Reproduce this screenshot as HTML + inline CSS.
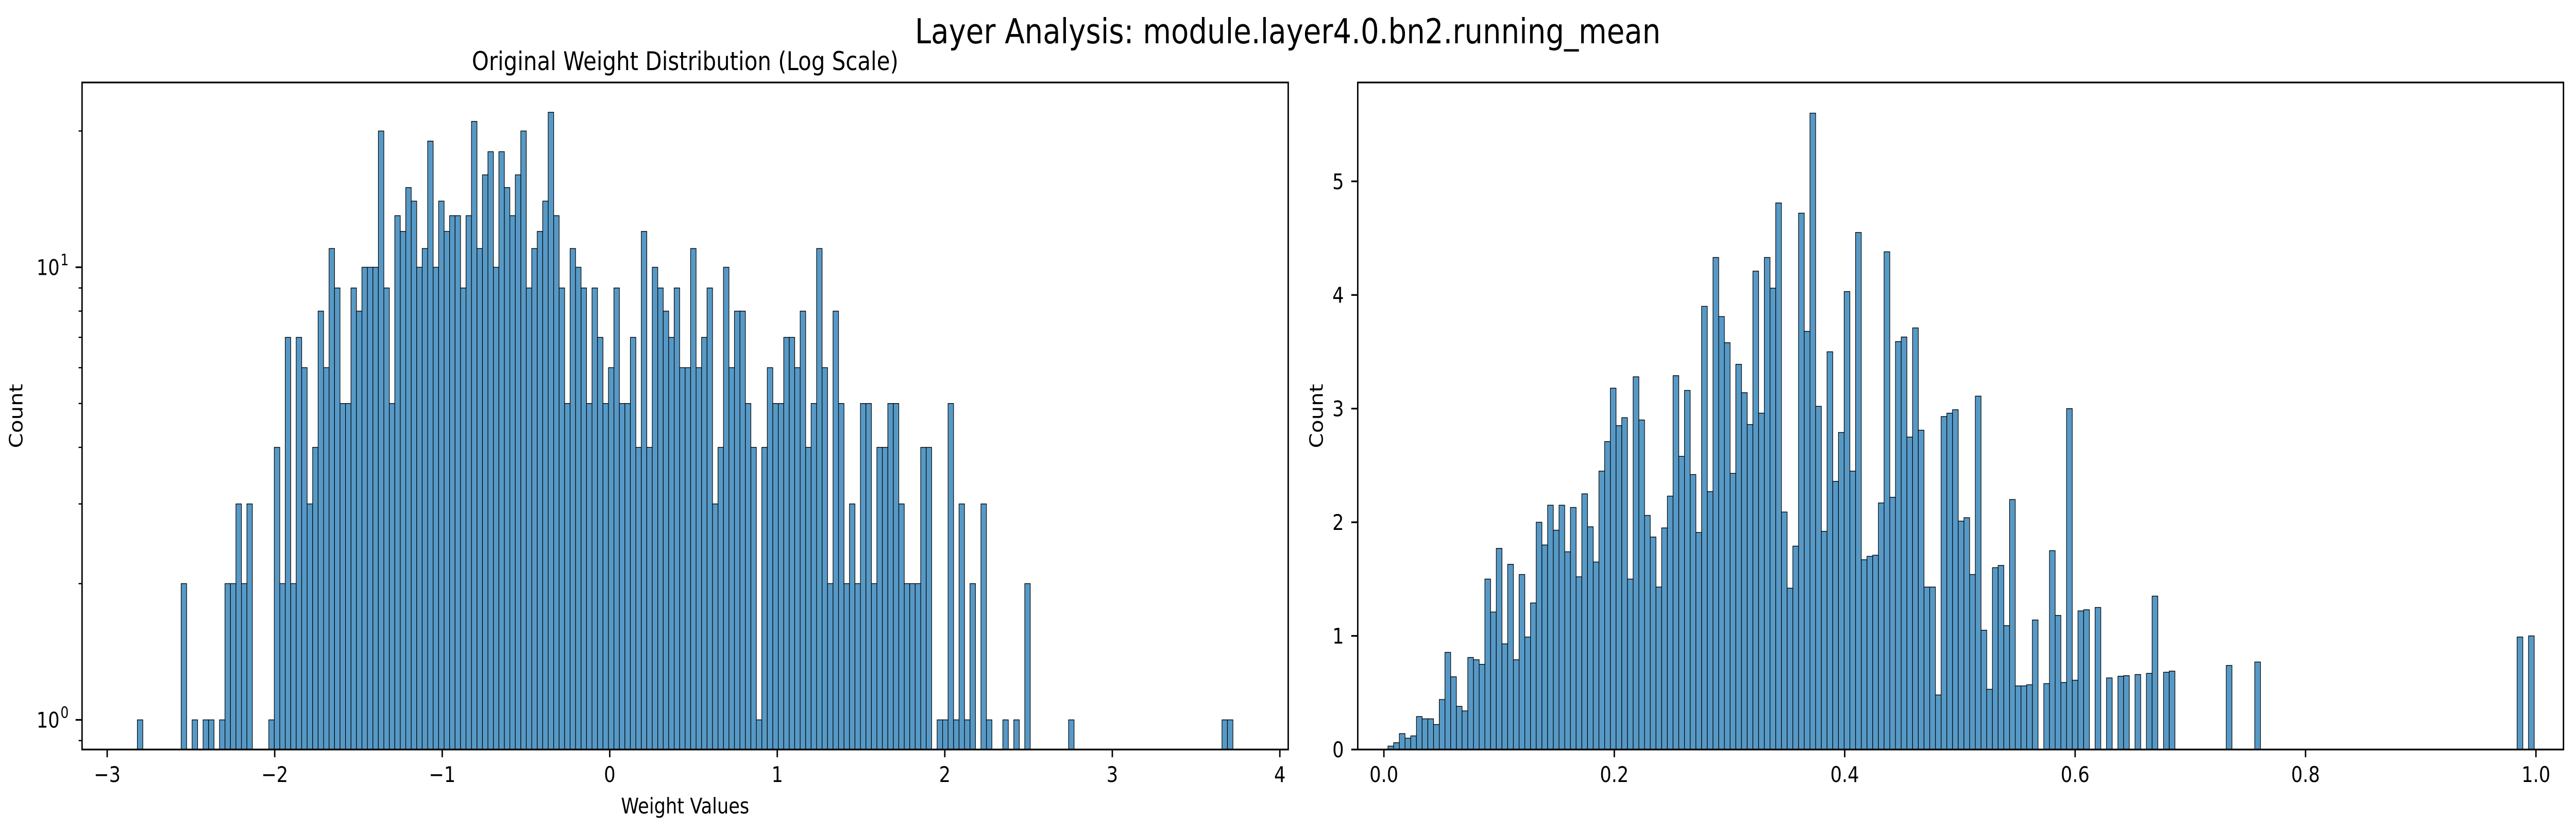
<!DOCTYPE html>
<html><head><meta charset="utf-8">
<style>
html,body{margin:0;padding:0;background:#fff;width:100%;height:100%;overflow:hidden;}
svg{display:block;width:100vw;height:100vh;font-family:"DejaVu Sans","Liberation Sans",sans-serif;}
</style></head><body>
<svg id="fig" viewBox="0 0 5965 1614" preserveAspectRatio="none" xmlns="http://www.w3.org/2000/svg">
<rect width="5965" height="1614" fill="#fff"/>
<text x="2982" y="84" font-size="67" text-anchor="middle">Layer Analysis: module.layer4.0.bn2.running_mean</text>
<g id="left"></g>
<g id="right"></g>
</svg>
<script>
// Left histogram: log-scale counts, 200 bins
const leftMin = -2.82;
const leftMax = 3.72;
const leftCounts = [1,0,0,0,0,0,0,0,2,0,1,0,1,1,0,1,2,2,3,2,3,0,0,0,1,4,2,7,2,7,6,3,4,8,6,11,9,5,5,9,8,10,10,10,20,9,5,13,12,15,14,10,11,19,10,14,12,13,13,9,13,21,11,16,18,10,18,15,13,16,20,9,11,12,14,22,13,9,5,11,10,9,5,9,7,5,6,9,5,5,7,4,12,4,10,9,8,7,9,6,6,11,6,7,9,3,4,10,6,8,8,5,4,1,4,6,5,5,7,7,6,8,4,5,11,6,2,8,5,2,3,2,5,5,2,4,4,5,5,3,2,2,2,4,4,0,1,1,5,1,3,1,2,0,3,1,0,0,1,0,1,0,2,0,0,0,0,0,0,0,1,0,0,0,0,0,0,0,0,0,0,0,0,0,0,0,0,0,0,0,0,0,0,0,0,0,0,0,1,1];
const leftXTicks = [-3,-2,-1,0,1,2,3,4];
const leftYMajor = [1,10];
const leftYMinor = [0.9,2,3,4,5,6,7,8,9,20];

// Right histogram: 200 bins
const rightMin = 0.0035;
const rightMax = 0.9985;
const rightValues = [0.03,0.06,0.14,0.10,0.12,0.29,0.27,0.27,0.22,0.44,0.855,0.64,0.38,0.34,0.81,0.79,0.75,1.50,1.21,1.77,0.93,1.63,0.79,1.54,0.99,1.29,2.00,1.80,2.15,1.93,2.15,1.74,2.13,1.52,2.25,1.96,1.65,2.45,2.71,3.18,2.85,2.92,1.50,3.28,2.90,2.06,1.87,1.43,1.95,2.23,3.29,2.58,3.16,2.42,1.91,3.90,2.27,4.33,3.81,3.58,2.43,3.39,3.14,2.86,4.21,2.96,4.33,4.06,4.81,2.09,1.42,1.79,4.72,3.68,5.60,3.02,1.92,3.50,2.36,2.79,4.03,2.45,4.55,1.67,1.70,1.71,2.17,4.38,2.22,3.59,3.63,2.75,3.71,2.81,1.43,1.43,0.48,2.93,2.96,2.99,2.01,2.04,1.54,3.11,1.05,0.53,1.60,1.62,1.09,2.20,0.56,0.56,0.57,1.14,0,0.58,1.75,1.18,0.59,3.00,0.61,1.22,1.23,0,1.25,0,0.63,0,0.645,0.65,0,0.66,0,0.67,1.35,0,0.68,0.69,0,0,0,0,0,0,0,0,0,0.74,0,0,0,0,0.77,0,0,0,0,0,0,0,0,0,0,0,0,0,0,0,0,0,0,0,0,0,0,0,0,0,0,0,0,0,0,0,0,0,0,0,0,0,0,0,0,0,0,0,0,0,0.99,0,1.00];
const rightXTicks = [0.0,0.2,0.4,0.6,0.8,1.0];
const rightYTicks = [0,1,2,3,4,5];

const NS = "http://www.w3.org/2000/svg";
function mk(parent, tag, attrs, text){
  const e = document.createElementNS(NS, tag);
  for (const k in attrs) e.setAttribute(k, attrs[k]);
  if (text !== undefined) e.textContent = text;
  parent.appendChild(e);
  return e;
}
const FILL = "#5799c6";

// ---------- LEFT ----------
(function(){
  const g = document.getElementById('left');
  const L = 190, R = 2983, T = 160, B = 1454;
  const xmin = -3.15, xmax = 4.05;
  const ymin = Math.log10(0.86), ymax = Math.log10(25.6);
  const sx = v => L + (v - xmin) / (xmax - xmin) * (R - L);
  const sy = c => B - (Math.log10(c) - ymin) / (ymax - ymin) * (B - T);
  const w = (leftMax - leftMin) / leftCounts.length;
  leftCounts.forEach((c, i) => {
    if (c <= 0) return;
    const x0 = sx(leftMin + i * w), x1 = sx(leftMin + (i + 1) * w);
    const r = mk(g, 'rect', {x: x0, y: sy(c), width: x1 - x0, height: B - sy(c), fill: FILL, stroke: '#000', 'stroke-width': 1.4});
    
    
  });
  leftXTicks.forEach(t => {
    const x = sx(t);
    const tk = mk(g, 'line', {x1: x, x2: x, y1: B, y2: B + 15, stroke: '#000', 'stroke-width': 3.3});
    
    
    const lb = mk(g, 'text', {x: x, y: 1517, 'font-size': 42, 'text-anchor': 'middle'}, (t < 0 ? '\u2212' + (-t) : String(t)));
    
    
  });
  leftYMinor.forEach(t => {
    const y = sy(t);
    const tk = mk(g, 'line', {x1: L - 8, x2: L, y1: y, y2: y, stroke: '#000', 'stroke-width': 2.5});
    
    
  });
  leftYMajor.forEach(t => {
    const y = sy(t);
    const tk = mk(g, 'line', {x1: L - 15, x2: L, y1: y, y2: y, stroke: '#000', 'stroke-width': 3.3});
    
    
    const lb = mk(g, 'text', {x: 138, y: y + 15, 'font-size': 42, 'text-anchor': 'end'}, '10');
    
    
    const sp = mk(g, 'text', {x: 140, y: y - 4, 'font-size': 30, 'text-anchor': 'start'}, String(Math.round(Math.log10(t))));
    
    
  });
  const fr = mk(g, 'rect', {x: L, y: T, width: R - L, height: B - T, fill: 'none', stroke: '#000', 'stroke-width': 3.3});
  
  
  const tt = mk(g, 'text', {x: (L + R) / 2, y: 136, 'font-size': 50, 'text-anchor': 'middle'}, 'Original Weight Distribution (Log Scale)');
  
  
  const xl = mk(g, 'text', {x: (L + R) / 2, y: 1578, 'font-size': 42, 'text-anchor': 'middle'}, 'Weight Values');
  
  
  const yl = mk(g, 'text', {x: 0, y: 0, 'font-size': 42, 'text-anchor': 'middle', transform: 'translate(52,807) rotate(-90)'}, 'Count');
  
  
})();

// ---------- RIGHT ----------
(function(){
  const g = document.getElementById('right');
  const L = 3144, R = 5936, T = 160, B = 1454;
  const xmin = -0.0227, xmax = 1.0239;
  const ymin = 0, ymax = 5.87;
  const sx = v => L + (v - xmin) / (xmax - xmin) * (R - L);
  const sy = c => B - (c - ymin) / (ymax - ymin) * (B - T);
  const w = (rightMax - rightMin) / rightValues.length;
  rightValues.forEach((c, i) => {
    if (c <= 0) return;
    const x0 = sx(rightMin + i * w), x1 = sx(rightMin + (i + 1) * w);
    const r = mk(g, 'rect', {x: x0, y: sy(c), width: x1 - x0, height: B - sy(c), fill: FILL, stroke: '#000', 'stroke-width': 1.4});
    
    
  });
  rightXTicks.forEach(t => {
    const x = sx(t);
    const tk = mk(g, 'line', {x1: x, x2: x, y1: B, y2: B + 15, stroke: '#000', 'stroke-width': 3.3});
    
    
    const lb = mk(g, 'text', {x: x, y: 1517, 'font-size': 42, 'text-anchor': 'middle'}, t.toFixed(1));
    
    
  });
  rightYTicks.forEach(t => {
    const y = sy(t);
    const tk = mk(g, 'line', {x1: L - 15, x2: L, y1: y, y2: y, stroke: '#000', 'stroke-width': 3.3});
    
    
    const lb = mk(g, 'text', {x: 3112, y: y + 15, 'font-size': 42, 'text-anchor': 'end'}, String(t));
    
    
  });
  const fr = mk(g, 'rect', {x: L, y: T, width: R - L, height: B - T, fill: 'none', stroke: '#000', 'stroke-width': 3.3});
  
  
  const yl = mk(g, 'text', {x: 0, y: 0, 'font-size': 42, 'text-anchor': 'middle', transform: 'translate(3063,807) rotate(-90)'}, 'Count');
  
  
})();
</script>
</body></html>
